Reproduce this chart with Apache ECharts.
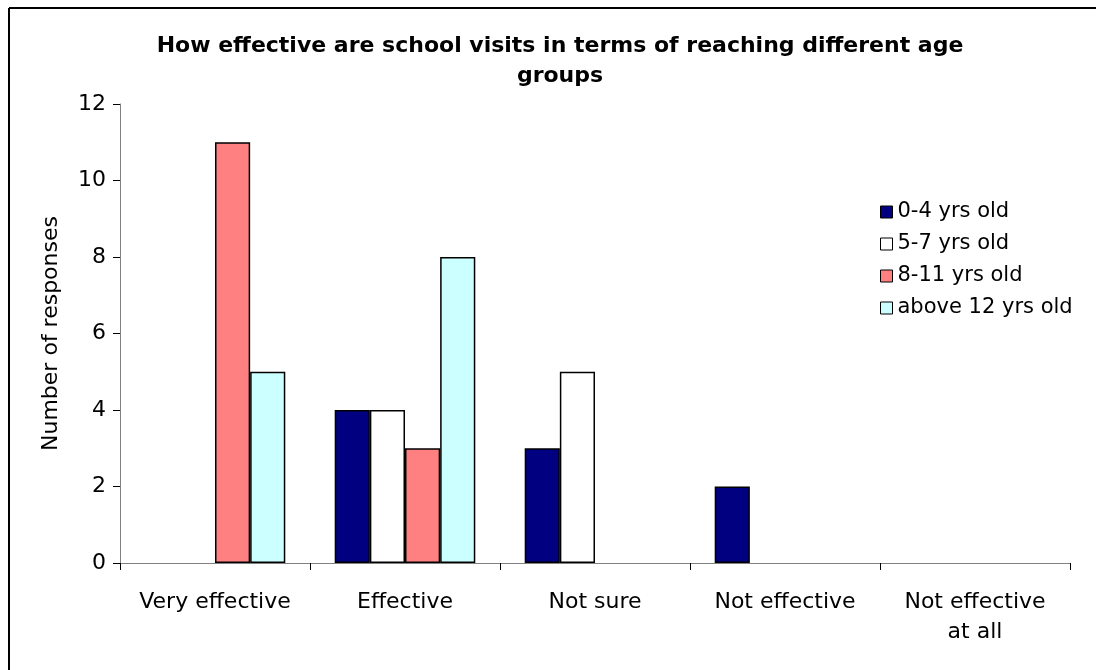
<!DOCTYPE html>
<html><head><meta charset="utf-8">
<script src="https://cdn.jsdelivr.net/npm/echarts@6/dist/echarts.min.js"></script>
<style>html,body{margin:0;padding:0;background:#fff}#c{width:1096px;height:670px}</style>
</head><body><div id="c"></div>
<script>
const categories = ['Very effective', 'Effective', 'Not sure', 'Not effective', 'Not effective\nat all'];
const seriesNames = ['0-4 yrs old', '5-7 yrs old', '8-11 yrs old', 'above 12 yrs old'];
const age0to4 = [0, 4, 3, 2, 0];
const age5to7 = [0, 4, 5, 0, 0];
const age8to11 = [11, 3, 0, 0, 0];
const age12plus = [5, 8, 0, 0, 0];
const yTicks = [0, 2, 4, 6, 8, 10, 12];
const colors = ['#000080', '#FFFFFF', '#FF8080', '#CCFFFF'];
const values = [age0to4, age5to7, age8to11, age12plus];
const font = 'DejaVu Sans';

const chart = echarts.init(document.getElementById('c'), null, {renderer: 'canvas'});
chart.setOption({
  animation: false,
  backgroundColor: '#fff',
  title: {
    text: 'How effective are school visits in terms of reaching different age\ngroups',
    left: 555, top: 26, textAlign: 'center',
    textStyle: {fontFamily: font, fontWeight: 'bold', fontSize: 22, color: '#000', lineHeight: 30}
  },
  legend: {
    orient: 'vertical', left: 875, top: 196, itemGap: 10,
    itemWidth: 12, itemHeight: 12, icon: 'rect',
    textStyle: {fontFamily: font, fontSize: 21, color: '#000', lineHeight: 22, padding: [0, 0, 0, 0]},
    itemStyle: {borderColor: '#000', borderWidth: 1}
  },
  grid: {left: 120, right: 26, top: 104, bottom: 107, containLabel: false},
  xAxis: {
    type: 'category', data: categories,
    axisLine: {lineStyle: {color: '#808080', width: 1}},
    axisTick: {show: true, length: 7, lineStyle: {color: '#000'}},
    axisLabel: {fontFamily: font, fontSize: 22, color: '#000', margin: 24, lineHeight: 30, interval: 0}
  },
  yAxis: {
    type: 'value', min: yTicks[0], max: yTicks[yTicks.length - 1], interval: 2,
    name: 'Number of responses', nameLocation: 'middle', nameGap: 58, nameRotate: 90,
    nameTextStyle: {fontFamily: font, fontSize: 22, color: '#000'},
    splitLine: {show: false},
    axisLine: {show: true, lineStyle: {color: '#808080', width: 1}},
    axisTick: {show: true, length: 7, lineStyle: {color: '#000'}},
    axisLabel: {fontFamily: font, fontSize: 22, color: '#000', margin: 14}
  },
  series: seriesNames.map((n, i) => ({
    name: n, type: 'bar',
    data: values[i].map(v => v === 0 ? {value: v, itemStyle: {borderWidth: 0}} : v),
    barGap: '0%', barCategoryGap: '26%',
    itemStyle: {color: colors[i], borderColor: '#000', borderWidth: 1.5}
  })),
  graphic: [
    {type: 'line', shape: {x1: 9, y1: 8, x2: 1096, y2: 8}, style: {stroke: '#000', lineWidth: 2}},
    {type: 'line', shape: {x1: 9, y1: 8, x2: 9, y2: 670}, style: {stroke: '#000', lineWidth: 2}}
  ]
});
</script></body></html>
